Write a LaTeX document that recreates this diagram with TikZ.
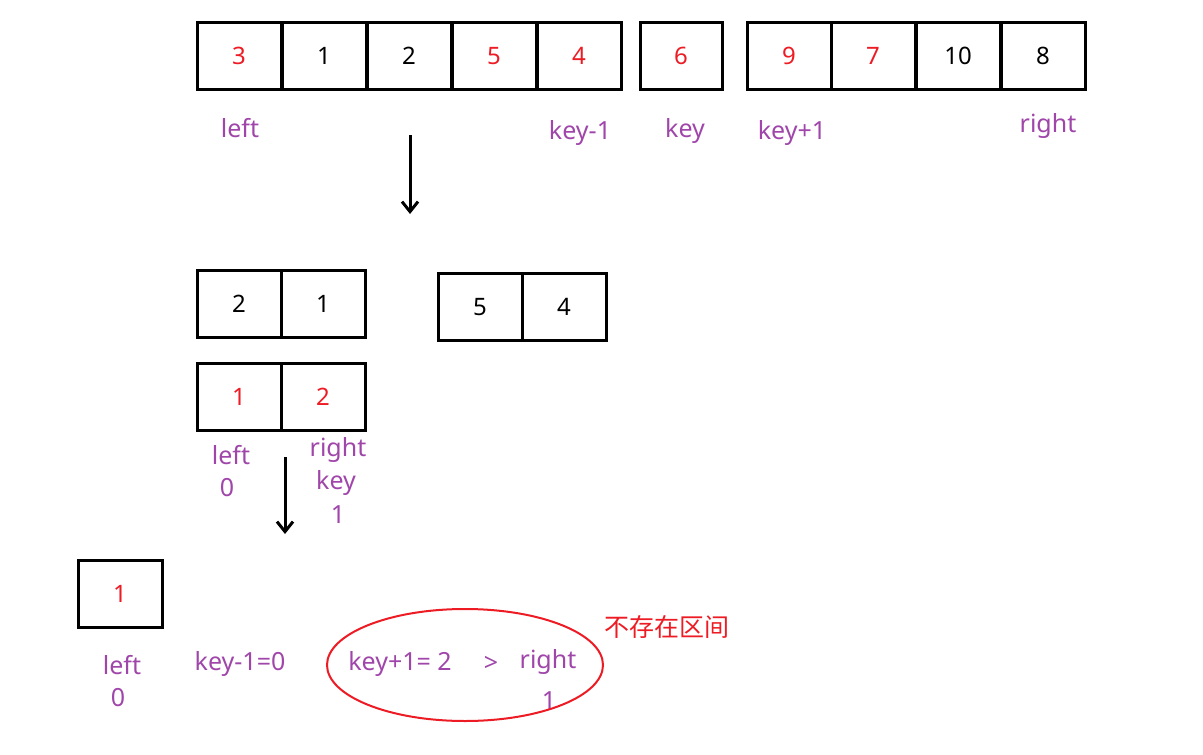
\documentclass[tikz,border=0pt]{standalone}
\usepackage{fontspec}
\usetikzlibrary{arrows.meta}
\setmainfont{Noto Sans}
\newfontfamily\cjk{Noto Sans CJK SC}
\definecolor{pur}{RGB}{160,70,170}
\definecolor{rd}{RGB}{237,28,36}
\begin{document}
\begin{tikzpicture}[x=1pt,y=-1pt,
 cell/.style={draw,line width=3pt,minimum width=84pt,minimum height=67pt,inner sep=0pt,font=\fontsize{24}{24}\selectfont},
 red/.style={text=rd},
 lab/.style={text=pur,font=\fontsize{25}{25}\selectfont,inner sep=0pt},
 arr/.style={-{Straight Barb[length=10pt,width=16pt]},line width=3pt}]
\useasboundingbox (0,0) rectangle (1203,755);
\node[cell,red] (a1) at (239,56) {3};
\node[cell] (a2) at (324,56) {1};
\node[cell] (a3) at (409,56) {2};
\node[cell,red] (a4) at (494,56) {5};
\node[cell,red] (a5) at (579,56) {4};
\node[cell,red,minimum width=82pt] (a6) at (681,56) {6};
\node[cell,red] (b1) at (789,56) {9};
\node[cell,red] (b2) at (873,56) {7};
\node[cell] (b3) at (958,56) {10};
\node[cell] (b4) at (1043,56) {8};
\node[lab] (l1) at (240,128) {left};
\node[lab] (l2) at (580,133) {key-1};
\node[lab] (l3) at (685,131) {key};
\node[lab] (l4) at (792,133) {key+1};
\node[lab] (l5) at (1048,126) {right};
\coordinate (p1) at (410,135); \coordinate (p2) at (410,214);
\draw[arr] (p1) -- (p2);
\node[cell] (c1) at (239,304) {2};
\node[cell] (c2) at (323,304) {1};
\node[cell] (c3) at (480,307) {5};
\node[cell] (c4) at (564,307) {4};
\node[cell,red] (d1) at (239,397) {1};
\node[cell,red] (d2) at (323,397) {2};
\node[lab] (m1) at (231,455) {left};
\node[lab] (m2) at (227,488) {0};
\node[lab] (m3) at (338,450) {right};
\node[lab] (m4) at (336,483) {key};
\node[lab] (m5) at (338,515) {1};
\coordinate (q1) at (285,457); \coordinate (q2) at (285,534);
\draw[arr] (q1) -- (q2);
\node[cell,red] (e1) at (120,594) {1};
\node[lab] (n1) at (122,665) {left};
\node[lab] (n2) at (118,698) {0};
\node[lab] (n3) at (240,664) {key-1=0};
\node[lab] (n4) at (400,664) {key+1= 2};
\node[lab] (n5) at (491,664) {>};
\node[lab] (n6) at (548,662) {right};
\node[lab] (n7) at (549,701) {1};
\draw[rd,line width=2pt] (465,665) ellipse [x radius=138, y radius=56];
\node[text=rd,font=\cjk\fontsize{25}{25}\selectfont,inner sep=0pt] (z) at (667,627) {不存在区间};
\end{tikzpicture}
\end{document}
